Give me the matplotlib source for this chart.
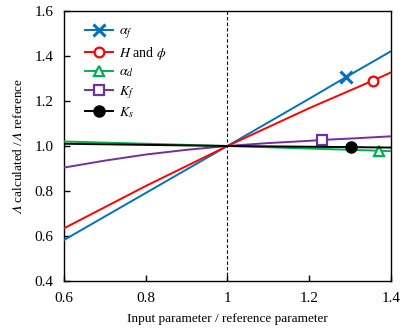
import matplotlib
matplotlib.use("Agg")
import matplotlib.pyplot as plt
from matplotlib.ticker import MultipleLocator, FuncFormatter

plt.rcParams['font.family'] = ['Liberation Serif', 'DejaVu Serif']
plt.rcParams['mathtext.fontset'] = 'stix'

# Data
alpha_f_x = [0.6, 0.8, 1.0, 1.2, 1.29, 1.4]
alpha_f_y = [0.582, 0.791, 1.0, 1.21, 1.306, 1.421]
H_x = [0.6, 0.8, 1.0, 1.2, 1.355, 1.4]
H_y = [0.634, 0.822, 1.0, 1.168, 1.29, 1.327]
alpha_d_x = [0.6, 1.0, 1.372, 1.4]
alpha_d_y = [1.02, 1.0, 0.979, 0.977]
K_f_x = [0.6, 0.7, 0.8, 0.9, 1.0, 1.1, 1.2, 1.232, 1.3, 1.4]
K_f_y = [0.904, 0.935, 0.962, 0.983, 1.0, 1.013, 1.023, 1.027, 1.033, 1.043]
K_s_x = [0.6, 1.0, 1.303, 1.4]
K_s_y = [1.01, 1.0, 0.995, 0.993]

series = [
    (alpha_f_x, alpha_f_y, r'$\alpha_f$', '#0070C0', 'x', 4, dict(markersize=8, markeredgewidth=2.2)),
    (H_x, H_y, r'$H$ and $\phi$', '#FF0000', 'o', 4, dict(markersize=7, markerfacecolor='white', markeredgewidth=1.6)),
    (alpha_d_x, alpha_d_y, r'$\alpha_d$', '#00B050', '^', 2, dict(markersize=7.5, markerfacecolor='white', markeredgewidth=1.6)),
    (K_f_x, K_f_y, r'$K_f$', '#7030A0', 's', 7, dict(markersize=7, markerfacecolor='white', markeredgewidth=1.6)),
    (K_s_x, K_s_y, r'$K_s$', '#000000', 'o', 2, dict(markersize=8, markerfacecolor='black')),
]

fig = plt.figure(figsize=(4.15, 3.32), dpi=100)
ax = fig.add_axes([0.154, 0.1536, 0.788, 0.8133])

ax.axvline(1.0, color='black', linestyle=(0, (3, 2)), linewidth=0.8, zorder=1)

for x, y, label, color, marker, mi, kw in series:
    ax.plot(x, y, color=color, linewidth=1.4, marker=marker, markevery=[mi],
            label=label, zorder=3, **kw)

ax.set_xlim(0.6, 1.4)
ax.set_ylim(0.4, 1.6)
ax.xaxis.set_major_locator(MultipleLocator(0.2))
ax.yaxis.set_major_locator(MultipleLocator(0.2))
ax.xaxis.set_major_formatter(FuncFormatter(lambda v, p: f"{v:g}"))
ax.yaxis.set_major_formatter(FuncFormatter(lambda v, p: f"{v:.1f}"))
ax.tick_params(direction='in', length=4, width=1, labelsize=11, top=False, right=False)
ax.tick_params(axis='x', pad=8)
ax.tick_params(axis='y', pad=7.5)
for s in ax.spines.values():
    s.set_linewidth(1.0)

ax.set_xlabel('Input parameter / reference parameter', fontsize=9.5, labelpad=6)
ax.set_ylabel('$\U0001D6EC$ calculated /$\U0001D6EC$ reference', fontsize=9.5, labelpad=7)

leg = ax.legend(loc='upper left', frameon=False, fontsize=10, handlelength=2.0,
                handletextpad=0.45, borderaxespad=0.4, labelspacing=0.3,
                bbox_to_anchor=(0.03, 0.99))

fig.savefig('out.png', dpi=100)
